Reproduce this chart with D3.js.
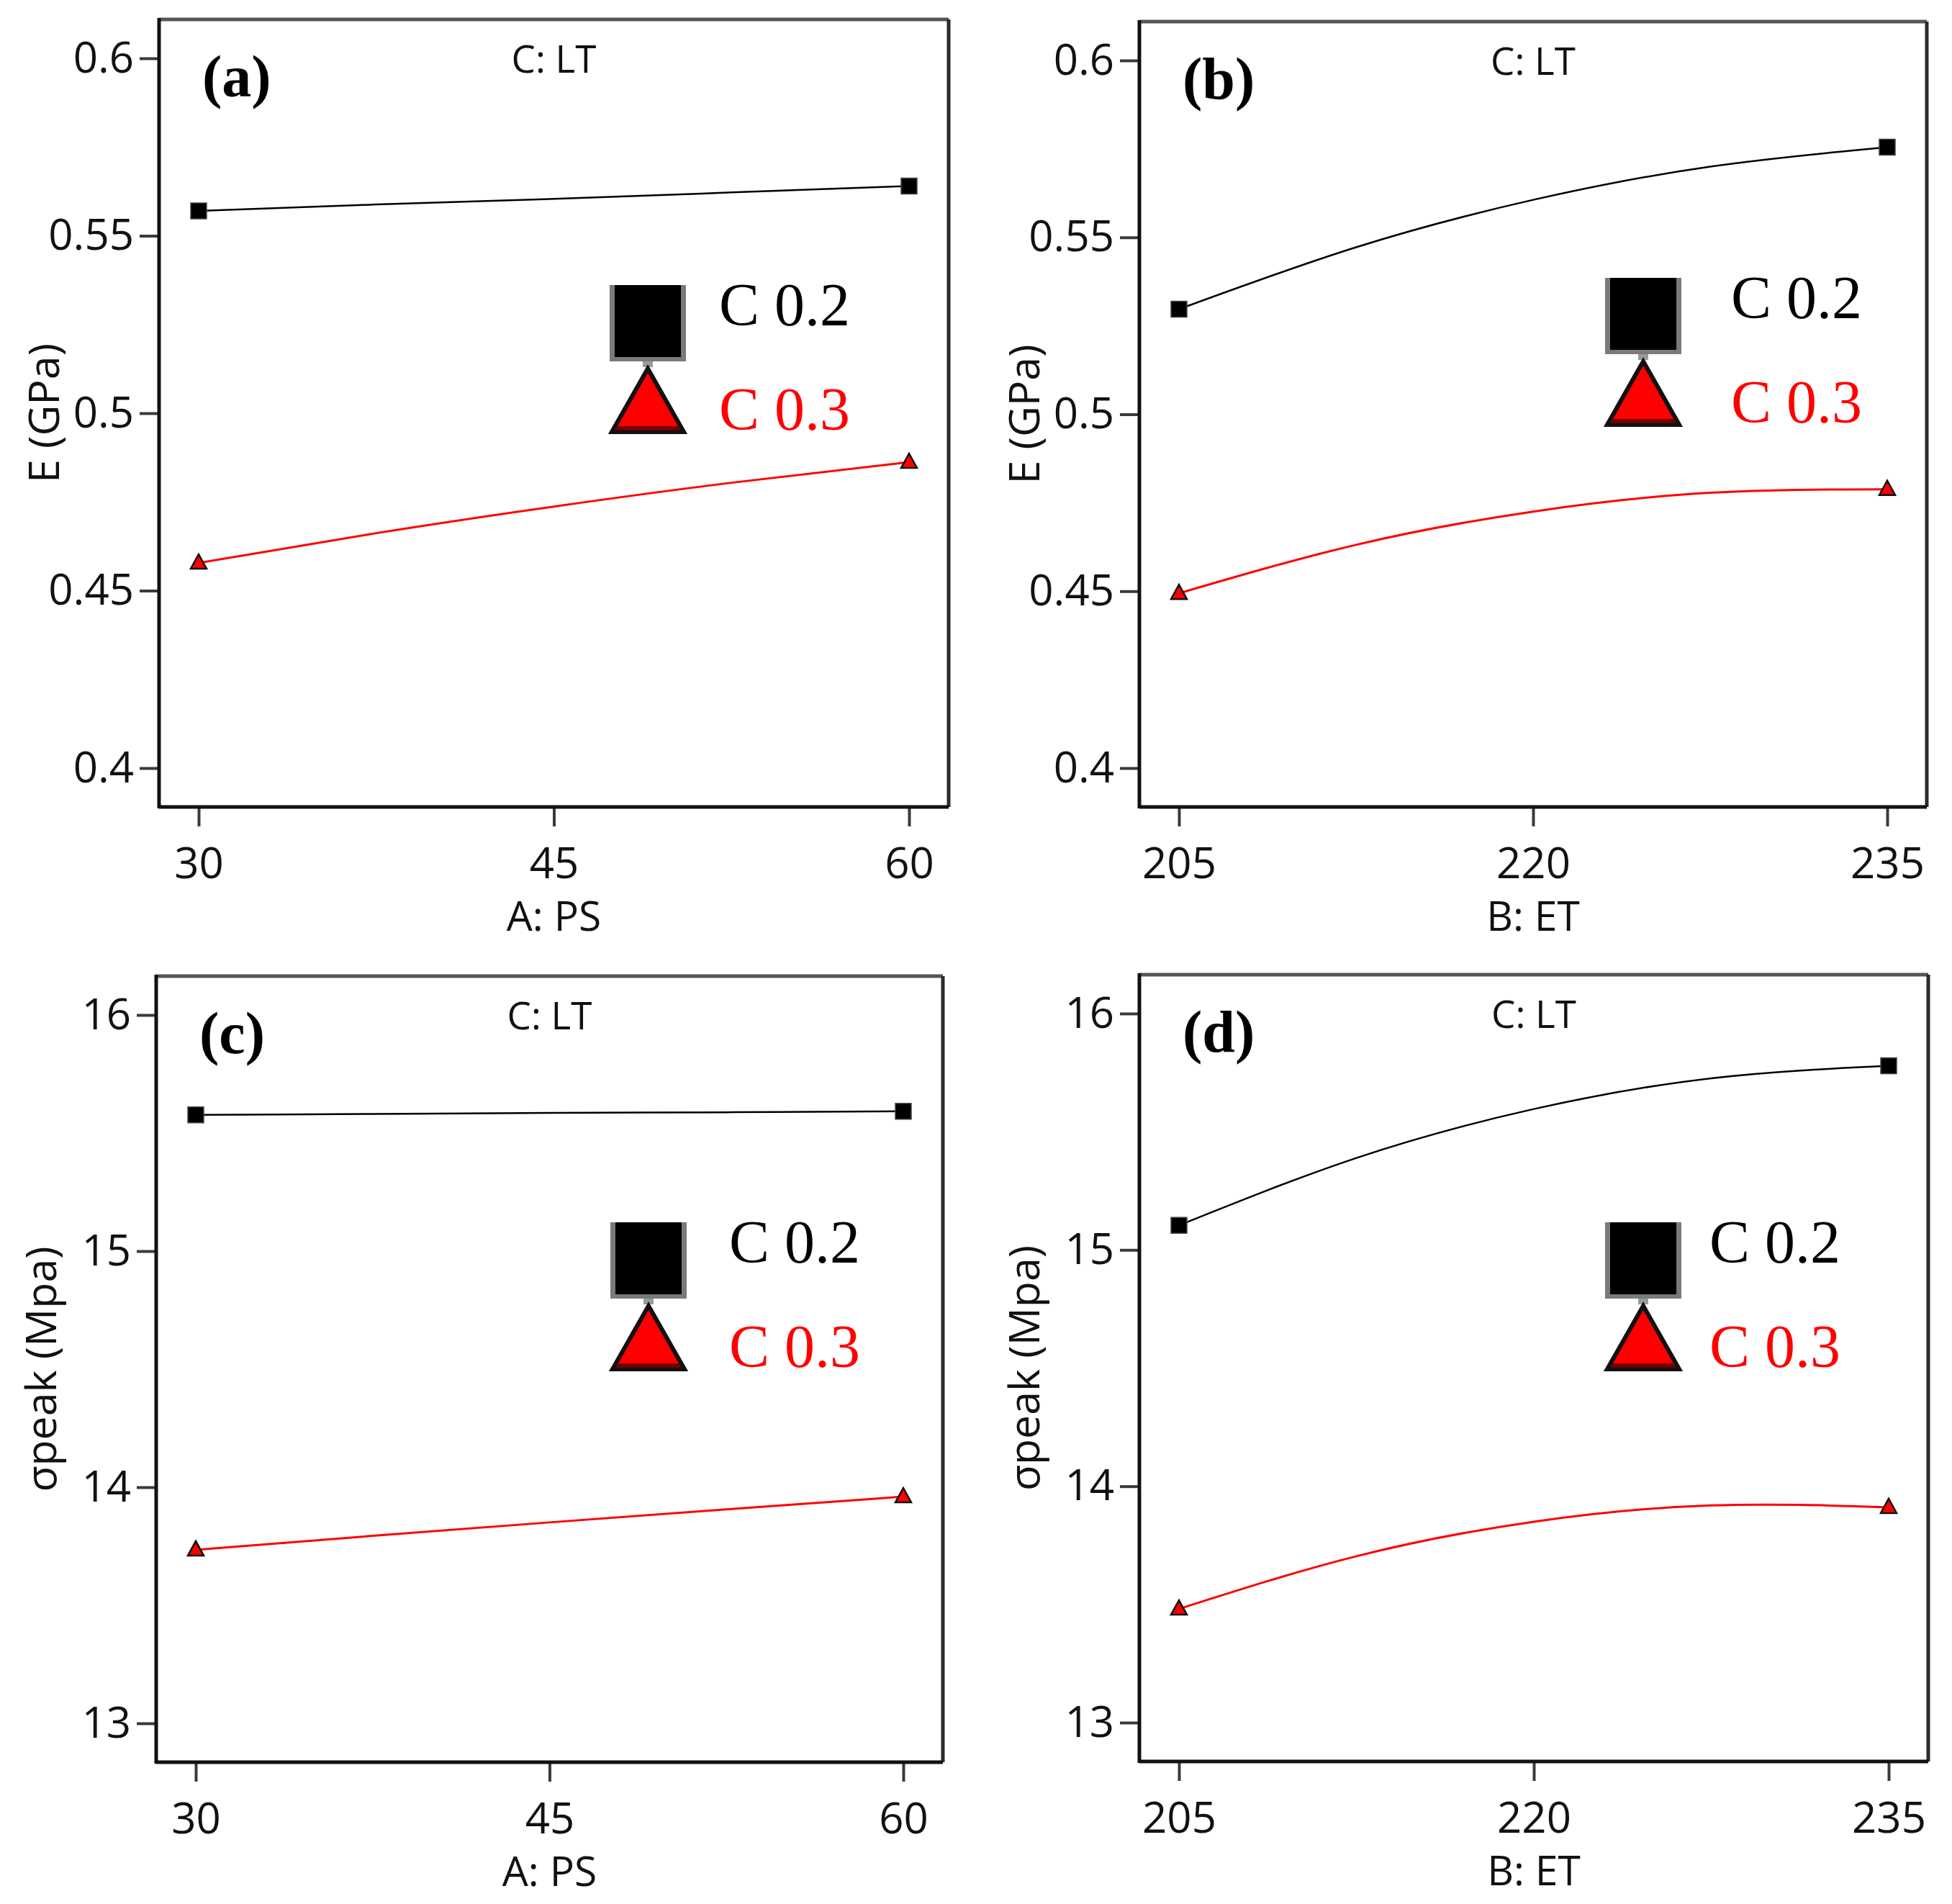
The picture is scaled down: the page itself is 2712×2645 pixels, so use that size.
<!DOCTYPE html>
<html>
<head>
<meta charset="utf-8">
<script src="https://cdn.jsdelivr.net/npm/d3@7"></script>
<style>
    body { margin: 0; background: #fff; }
</style>
</head>
<body>
<script>
// factor levels
let psTicks = [30, 45, 60]
let etTicks = [205, 220, 235]
let eTicks = [0.4, 0.45, 0.5, 0.55, 0.6]
let sTicks = [13, 14, 15, 16]
let psLevels = [30, 37.5, 45, 52.5, 60]
let etLevels = [205, 212.5, 220, 227.5, 235]

// values (C = 0.2 / 0.3)
let ePsC02 = [0.5570, 0.5588, 0.5604, 0.5622, 0.5640]
let ePsC03 = [0.4578, 0.4662, 0.4737, 0.4804, 0.4862]
let eEtC02 = [0.5297, 0.5472, 0.5606, 0.5700, 0.5755]
let eEtC03 = [0.4494, 0.4631, 0.4725, 0.4778, 0.4788]
let sPsC02 = [15.577, 15.581, 15.585, 15.588, 15.592]
let sPsC03 = [13.735, 13.794, 13.851, 13.906, 13.960]
let sEtC02 = [15.104, 15.389, 15.596, 15.726, 15.779]
let sEtC03 = [13.481, 13.704, 13.850, 13.919, 13.911]

let seriesNames = ["C 0.2", "C 0.3"]
let seriesColors = ["#000000", "#ff0000"]

let panels = [
    {tag: "a", left: 221, top: 27, w: 1097, h: 1094, xs: psLevels, xt: psTicks, yt: eTicks, ydom: [0.4, 0.6],
     xlab: "A: PS", ylab: "E (GPa)", ys: [ePsC02, ePsC03], lx: 900, ly: 396, tx: 999},
    {tag: "b", left: 1583, top: 30, w: 1094, h: 1091, xs: etLevels, xt: etTicks, yt: eTicks, ydom: [0.4, 0.6],
     xlab: "B: ET", ylab: "E (GPa)", ys: [eEtC02, eEtC03], lx: 2283, ly: 386, tx: 2405},
    {tag: "c", left: 217, top: 1356, w: 1093, h: 1092, xs: psLevels, xt: psTicks, yt: sTicks, ydom: [13, 16],
     xlab: "A: PS", ylab: "σpeak (Mpa)", ys: [sPsC02, sPsC03], lx: 901, ly: 1698, tx: 1013},
    {tag: "d", left: 1583, top: 1354, w: 1096, h: 1093, xs: etLevels, xt: etTicks, yt: sTicks, ydom: [13, 16],
     xlab: "B: ET", ylab: "σpeak (Mpa)", ys: [sEtC02, sEtC03], lx: 2283, ly: 1698, tx: 2375}
]

let sans = "'Open Sans', 'DejaVu Sans', sans-serif"
let serif = "'Liberation Serif', 'DejaVu Serif', serif"

let svg = d3.select("body")
    .append("svg")
        .attr("width", 2712)
        .attr("height", 2645)
svg.append("rect").attr("width", 2712).attr("height", 2645).attr("fill", "#fff")

panels.forEach(p => drawPanel(p))

function drawPanel(p) {
    let pad = 55
    let x = d3.scaleLinear()
        .domain(d3.extent(p.xt))
        .range([p.left + pad, p.left + p.w - pad])
    let y = d3.scaleLinear()
        .domain(p.ydom)
        .range([p.top + p.h - 54, p.top + 54])
    let g = svg.append("g")

    // axes
    let yAxis = g.append("g")
        .attr("transform", `translate(${p.left},0)`)
        .call(d3.axisLeft(y).tickValues(p.yt).tickSize(27).tickPadding(8).tickSizeOuter(0).tickFormat(d3.format("")))
    let xAxis = g.append("g")
        .attr("transform", `translate(0,${p.top + p.h})`)
        .call(d3.axisBottom(x).tickValues(p.xt).tickSize(27).tickPadding(29).tickSizeOuter(0))
    ;[xAxis, yAxis].forEach(a => {
        a.select(".domain").remove()
        a.selectAll("line").attr("stroke", "#3a3a3a").attr("stroke-width", 4)
        a.selectAll("text")
            .attr("fill", "#111")
            .style("font-family", sans)
            .style("font-size", "60px")
    })

    // frame
    g.append("line").attr("x1", p.left).attr("x2", p.left + p.w).attr("y1", p.top).attr("y2", p.top)
        .attr("stroke", "#555").attr("stroke-width", 5)
    g.append("line").attr("x1", p.left + p.w).attr("x2", p.left + p.w).attr("y1", p.top).attr("y2", p.top + p.h)
        .attr("stroke", "#2a2a2a").attr("stroke-width", 5)
    g.append("line").attr("x1", p.left).attr("x2", p.left).attr("y1", p.top - 2).attr("y2", p.top + p.h + 2)
        .attr("stroke", "#111").attr("stroke-width", 5)
    g.append("line").attr("x1", p.left).attr("x2", p.left + p.w).attr("y1", p.top + p.h).attr("y2", p.top + p.h)
        .attr("stroke", "#111").attr("stroke-width", 5)

    // titles
    g.append("text")
        .text(p.xlab)
        .attr("x", x(d3.mean(d3.extent(p.xt))))
        .attr("y", p.top + p.h + 172)
        .attr("text-anchor", "middle")
        .style("font-family", sans).style("font-size", "57px").attr("fill", "#111")
    g.append("text")
        .text(p.ylab)
        .attr("transform", `translate(${p.left - 139},${p.top + p.h / 2}) rotate(-90)`)
        .attr("text-anchor", "middle")
        .style("font-family", sans).style("font-size", "59px").attr("fill", "#111")
    g.append("text")
        .text("C: LT")
        .attr("x", x(d3.mean(d3.extent(p.xt))))
        .attr("y", p.top + 74)
        .attr("text-anchor", "middle")
        .style("font-family", sans).style("font-size", "53px").attr("fill", "#111")
    g.append("text")
        .text(`(${p.tag})`)
        .attr("x", p.left + 60)
        .attr("y", p.top + 107)
        .style("font-family", serif).style("font-size", "82px").style("font-weight", "bold")

    // curves
    let line = d3.line()
        .x((d, i) => x(p.xs[i]))
        .y(d => y(d))
        .curve(d3.curveNatural)
    p.ys.forEach((vals, k) => {
        g.append("path")
            .attr("d", line(vals))
            .attr("fill", "none")
            .attr("stroke", seriesColors[k])
            .attr("stroke-width", k === 0 ? 2.5 : 3)
    })

    // end markers
    let ends = [0, p.xs.length - 1]
    g.append("g").selectAll("rect")
        .data(ends)
        .enter()
        .append("rect")
            .attr("x", i => x(p.xs[i]) - 11)
            .attr("y", i => y(p.ys[0][i]) - 11)
            .attr("width", 22)
            .attr("height", 22)
            .attr("fill", "#000")
            .attr("stroke", "#444")
            .attr("stroke-width", 1.5)
    g.append("g").selectAll("path")
        .data(ends)
        .enter()
        .append("path")
            .attr("d", i => {
                let cx = x(p.xs[i]), cy = y(p.ys[1][i])
                return `M${cx},${cy - 12} L${cx + 11},${cy + 8} L${cx - 11},${cy + 8} Z`
            })
            .attr("fill", "#ff0000")
            .attr("stroke", "#111")
            .attr("stroke-width", 2.5)
            .attr("stroke-linejoin", "miter")

    // legend
    let lg = g.append("g")
    lg.append("rect")
        .attr("x", p.lx - 53).attr("y", p.ly)
        .attr("width", 106).attr("height", 106)
        .attr("fill", "#7a7a7a")
    lg.append("rect")
        .attr("x", p.lx - 46).attr("y", p.ly)
        .attr("width", 92).attr("height", 100)
        .attr("fill", "#000")
    lg.append("rect")
        .attr("x", p.lx - 7).attr("y", p.ly + 106)
        .attr("width", 14).attr("height", 8)
        .attr("fill", "#9a9a9a")
    lg.append("path")
        .attr("d", `M${p.lx},${p.ly + 116} L${p.lx + 50},${p.ly + 204} L${p.lx - 50},${p.ly + 204} Z`)
        .attr("fill", "#ff0000").attr("stroke", "#111").attr("stroke-width", 6)
        .attr("stroke-linejoin", "miter")
    lg.append("line")
        .attr("x1", p.lx - 44).attr("x2", p.lx + 44)
        .attr("y1", p.ly + 199).attr("y2", p.ly + 199)
        .attr("stroke", "#700000").attr("stroke-width", 6)
    seriesNames.forEach((s, k) => {
        lg.append("text")
            .text(s)
            .attr("x", p.tx)
            .attr("y", p.ly + (k === 0 ? 56 : 201))
            .attr("fill", seriesColors[k])
            .style("font-family", serif)
            .style("font-size", "84px")
    })
}
</script>
</body>
</html>
